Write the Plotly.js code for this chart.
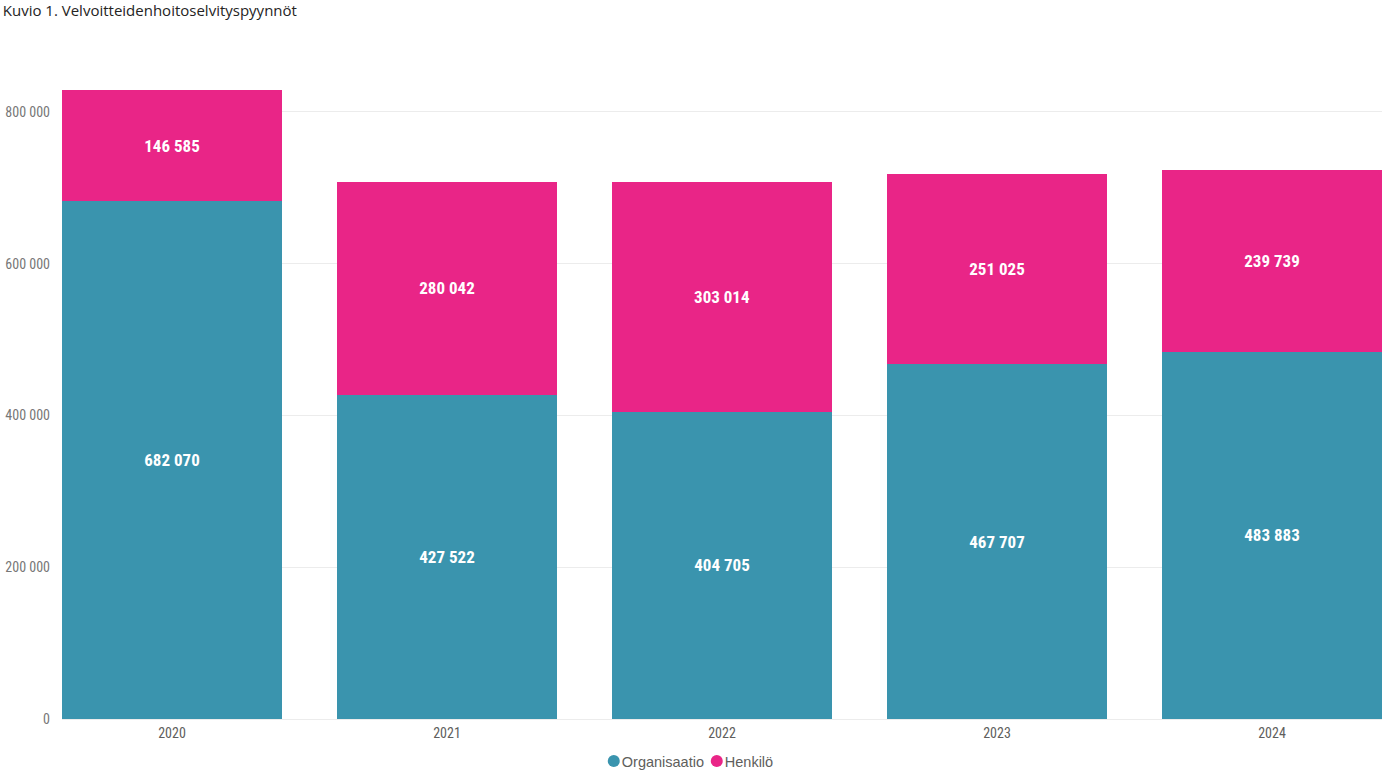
<!DOCTYPE html>
<html>
<head>
<meta charset="utf-8">
<script src="https://cdn.plot.ly/plotly-3.0.1.min.js"></script>
<style>html,body{margin:0;padding:0;background:#fff;}#chart{width:1382px;height:774px;}</style>
</head>
<body>
<div id="chart"></div>
<script>
const years = ["2020", "2021", "2022", "2023", "2024"];
const organisaatio = [682070, 427522, 404705, 467707, 483883];
const henkilo = [146585, 280042, 303014, 251025, 239739];
const yTicks = [0, 200000, 400000, 600000, 800000];

const condFont = "'Roboto Condensed', 'DejaVu Sans Condensed', 'Liberation Sans Narrow', Roboto, sans-serif";
const labelFont = {family: condFont, size: 17, color: "#ffffff", weight: "bold"};

const traces = [
  {type: "bar", name: "Organisaatio", x: years, y: organisaatio, marker: {color: "#3A94AE"},
   texttemplate: "%{y:,}", textposition: "inside", insidetextanchor: "middle", textfont: labelFont,
   hoverinfo: "skip", width: 0.8},
  {type: "bar", name: "Henkilö", x: years, y: henkilo, marker: {color: "#E92587"},
   texttemplate: "%{y:,}", textposition: "inside", insidetextanchor: "middle", textfont: labelFont,
   hoverinfo: "skip", width: 0.8}
];

const layout = {
  width: 1382, height: 774,
  barmode: "stack",
  separators: ". ",
  paper_bgcolor: "#ffffff", plot_bgcolor: "#ffffff",
  margin: {l: 62, r: 0, t: 74, b: 55, autoexpand: false},
  title: {text: "Kuvio 1. Velvoitteidenhoitoselvityspyynnöt", x: 0.002, xanchor: "left", y: 0.993, yanchor: "top",
          font: {family: "Open Sans, Noto Sans", size: 15, color: "#252423"}},
  xaxis: {type: "category", range: [-0.4, 4.4], showgrid: false, zeroline: false, showline: false,
          ticks: "", ticklabelstandoff: 4, automargin: false,
          tickfont: {family: condFont, size: 14, color: "#605E5C"}},
  yaxis: {range: [0, 850000], tickvals: yTicks, tickformat: ",d", showgrid: true, gridcolor: "#ECECEC",
          zeroline: true, zerolinecolor: "#ECECEC", ticks: "", ticklabelstandoff: 11, automargin: false,
          tickfont: {family: condFont, size: 14, color: "#777777"}},
  legend: {orientation: "h", x: 0.4955, xanchor: "center", xref: "container", y: 13/774, yanchor: "middle", yref: "container",
           font: {family: "'Liberation Sans', Arial, sans-serif", size: 14.5, color: "#605E5C"},
           entrywidth: 58, entrywidthmode: "pixels", traceorder: "normal", tracegroupgap: 0},
  showlegend: true
};

Plotly.newPlot("chart", traces, layout, {displayModeBar: false, staticPlot: true}).then(() => {
  document.querySelectorAll(".legend .traces").forEach(t => {
    const p = t.querySelector(".legendpoints path");
    if (!p) return;
    const fill = p.style.fill;
    const g = p.parentNode;
    p.style.display = "none";
    const c = document.createElementNS("http://www.w3.org/2000/svg", "circle");
    c.setAttribute("cx", 32); c.setAttribute("cy", 0); c.setAttribute("r", 6);
    c.setAttribute("fill", fill);
    g.appendChild(c);
  });
});
</script>
</body>
</html>
